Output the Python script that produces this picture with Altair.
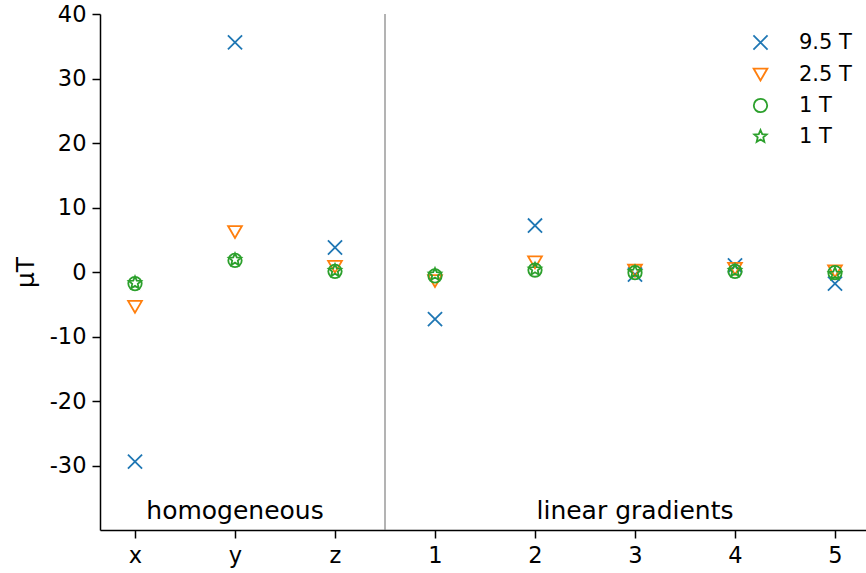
import math
import altair as alt
import pandas as pd

# Field offsets per axis / gradient component, in microtesla
categories = ["x", "y", "z", "1", "2", "3", "4", "5"]
series_names = ["9.5 T", "2.5 T", "1 T", "1 T*"]
vals_95 = [-29.4, 35.6, 3.8, -7.3, 7.2, -0.4, 1.0, -1.8]
vals_25 = [-5.4, 6.2, 0.8, -1.4, 1.5, 0.2, 0.5, 0.1]
vals_1a = [-1.8, 1.8, 0.1, -0.6, 0.3, -0.1, 0.1, -0.1]
vals_1b = [-1.7, 1.9, 0.2, -0.4, 0.4, 0.0, 0.2, -0.3]
region_labels = ["homogeneous", "linear gradients"]
region_pos = [1, 5]
divider_pos = 2.5

rows = []
for s_idx, (name, vals) in enumerate(zip(series_names, [vals_95, vals_25, vals_1a, vals_1b])):
    for i, v in enumerate(vals):
        rows.append({"pos": i, "series": name, "value": v, "z": s_idx})
df = pd.DataFrame(rows)


def star_path(n=5, r_out=1.0, r_in=0.45):
    pts = []
    for k in range(2 * n):
        r = r_out if k % 2 == 0 else r_in
        a = -math.pi / 2 + k * math.pi / n
        pts.append(f"{r * math.cos(a):.3f},{r * math.sin(a):.3f}")
    return "M" + "L".join(pts) + "Z"


cross_x = "M-1,-1L1,1M-1,1L1,-1"
shapes = [cross_x, "triangle-down", "circle", star_path()]
colors = ["#1f77b4", "#ff7f0e", "#2ca02c", "#2ca02c"]
FONT = "DejaVu Sans"

labels_js = "[" + ",".join(f"'{c}'" for c in categories) + "]"

common_axis = dict(
    grid=False,
    labelFontSize=22.5,
    labelPadding=6,
    tickSize=8,
    tickWidth=1.5,
    domainWidth=1.5,
    domainColor="black",
    tickColor="black",
    labelColor="black",
    labelFont=FONT,
)

x_enc = alt.X(
    "pos:Q",
    scale=alt.Scale(domain=[-0.35, 7.31], nice=False, zero=False),
    axis=alt.Axis(
        values=list(range(len(categories))),
        labelExpr=f"{labels_js}[datum.value]",
        title=None,
        **common_axis,
    ),
)
y_enc = alt.Y(
    "value:Q",
    scale=alt.Scale(domain=[-40, 40], nice=False),
    axis=alt.Axis(
        values=list(range(-30, 41, 10)),
        labelExpr="replace(datum.label, '\u2212', '-')",
        title="\u03bcT",
        titleFontSize=25,
        titleFontWeight="normal",
        titleFont=FONT,
        titlePadding=11,
        **common_axis,
    ),
)

points = alt.Chart(df).mark_point(filled=False, strokeWidth=1.8, opacity=1).encode(
    x=x_enc,
    y=y_enc,
    color=alt.Color(
        "series:N",
        scale=alt.Scale(domain=series_names, range=colors),
        legend=alt.Legend(
            title=None,
            orient="none",
            legendX=650,
            legendY=18,
            labelFontSize=21,
            labelFont=FONT,
            labelColor="black",
            labelExpr="replace(datum.label, '*', '')",
            symbolSize=170,
            symbolStrokeWidth=1.8,
            rowPadding=9,
            labelOffset=28,
            symbolFillColor="transparent",
        ),
    ),
    shape=alt.Shape("series:N", scale=alt.Scale(domain=series_names, range=shapes)),
    size=alt.Size(
        "series:N",
        scale=alt.Scale(domain=series_names, range=[200, 170, 170, 70]),
        legend=None,
    ),
    order=alt.Order("z:Q"),
)

div_df = pd.DataFrame({"pos": [divider_pos]})
divider = alt.Chart(div_df).mark_rule(color="#808080", strokeWidth=1.2).encode(x="pos:Q")

txt_df = pd.DataFrame({"pos": region_pos, "value": [-37.0, -37.0], "label": region_labels})
texts = alt.Chart(txt_df).mark_text(
    fontSize=25, font=FONT, color="black", baseline="middle", align="center"
).encode(x="pos:Q", y="value:Q", text="label:N")

chart = (
    alt.layer(divider, points, texts)
    .properties(
        width=766,
        height=516,
        padding={"left": 100, "top": 14, "right": 0, "bottom": 43},
        autosize=alt.AutoSizeParams(type="none"),
        background="white",
    )
    .configure_view(stroke=None)
)

chart.save("out.html", embed_options={"renderer": "svg", "actions": False})
